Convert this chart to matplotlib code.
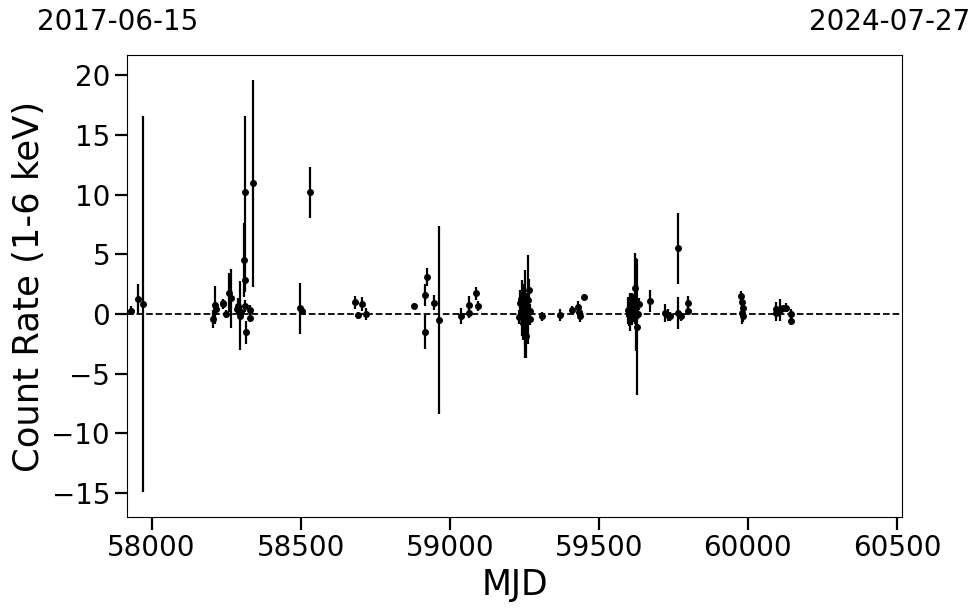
import matplotlib
matplotlib.use("Agg")
import matplotlib.pyplot as plt

# light curve
mjd = [57931, 57956, 57972,
       58205, 58213, 58215, 58238, 58241, 58250, 58261, 58266, 58286, 58290,
       58297, 58300, 58311, 58312, 58313, 58314, 58318, 58329, 58331, 58339,
       58498, 58503, 58531,
       58682, 58693, 58707, 58718,
       58880, 58917, 58925, 58918, 58947, 58965,
       59037, 59064, 59065, 59088, 59096,
       59232, 59236, 59239, 59242, 59244, 59246, 59248, 59251, 59253, 59256,
       59258, 59262, 59265, 59268, 59270,
       59310, 59370, 59410, 59430, 59433, 59437, 59452,
       59597, 59600, 59604, 59606, 59610, 59613, 59616, 59620, 59623, 59626,
       59629, 59631, 59634,
       59671, 59721, 59733, 59738, 59766, 59767, 59777, 59799, 59800,
       59978, 59980, 59983, 59979, 59985,
       60093, 60095, 60109, 60117, 60128, 60146, 60145]
rate = [0.28, 1.23, 0.85,
        -0.45, 0.75, 0.4, 0.8, 0.95, 0.0, 1.8, 1.3, 0.4, 0.7,
        -0.15, 0.2, 4.5, 0.7, 10.2, 2.85, -1.55, 0.35, -0.3, 10.95,
        0.48, 0.28, 10.2,
        0.98, -0.1, 0.84, 0.0,
        0.67, 1.6, 3.13, -1.5, 0.95, -0.5,
        -0.17, 0.75, 0.05, 1.73, 0.67,
        -0.25, 0.9, 1.25, 0.5, 0.0, -0.75, 1.5, 0.0, -1.35, -1.85,
        0.6, 1.2, 2.0, 0.25, -0.4,
        -0.2, -0.1, 0.35, 0.6, 0.2, -0.2, 1.45,
        0.3, -0.1, 0.6, 0.2, 1.0, -0.3, 0.5, 2.15, 0.2, 0.8,
        -1.1, 0.0, 0.8,
        1.1, 0.05, -0.1, -0.2, 5.5, 0.05, -0.2, 0.95, 0.25,
        1.5, 1.03, 0.47, 0.05, -0.2,
        0.4, 0.05, 0.33, 0.47, 0.53, 0.0, -0.56]
rate_err = [0.4, 1.25, 15.75,
            0.75, 1.6, 0.5, 0.4, 0.3, 0.3, 1.6, 2.45, 0.4, 0.6,
            2.9, 0.5, 3.1, 0.5, 6.4, 1.0, 1.0, 0.4, 0.4, 8.7,
            2.15, 0.3, 2.15,
            0.55, 0.3, 0.6, 0.5,
            0.25, 0.9, 0.75, 1.45, 0.65, 7.9,
            0.7, 0.75, 0.4, 0.55, 0.4,
            0.6, 1.1, 0.8, 2.35, 1.0, 1.4, 1.0, 3.7, 1.3, 1.85,
            1.2, 3.75, 0.9, 0.6, 0.5,
            0.4, 0.5, 0.3, 0.5, 0.6, 0.5, 0.2,
            1.1, 0.9, 1.0, 1.6, 0.8, 0.6, 1.2, 2.95, 0.5, 3.9,
            5.7, 0.4, 0.5,
            0.9, 0.75, 0.5, 0.4, 3.0, 1.35, 0.4, 0.6, 0.3,
            0.45, 0.5, 0.4, 0.9, 0.5,
            0.6, 0.6, 0.95, 0.3, 0.4, 0.4, 0.4]

mjd_range = [57919, 60518]
date_labels = ["2017-06-15", "2024-07-27"]

fig = plt.figure(figsize=(9.8, 6.13), dpi=100)
ax = fig.add_axes([0.130, 0.157, 0.7907, 0.753])

ax.errorbar(mjd, rate, yerr=rate_err, fmt="o", color="k", ms=4,
            elinewidth=1.6, capsize=0)
ax.axhline(0, color="k", ls="--", lw=1.3)

ax.set_xlim(mjd_range)
ax.set_ylim(-17.0, 21.7)
ax.set_xticks([58000, 58500, 59000, 59500, 60000, 60500])
ax.set_yticks([-15, -10, -5, 0, 5, 10, 15, 20])
ax.tick_params(labelsize=20, length=9, width=1.6)
ax.set_xlabel("MJD", fontsize=25)
ax.set_ylabel("Count Rate (1-6 keV)", fontsize=25.5)

fig.text(0.1204, 0.964, date_labels[0], fontsize=20, ha="center", va="center")
fig.text(0.908, 0.964, date_labels[1], fontsize=20, ha="center", va="center")

fig.savefig("out.png", dpi=100)
